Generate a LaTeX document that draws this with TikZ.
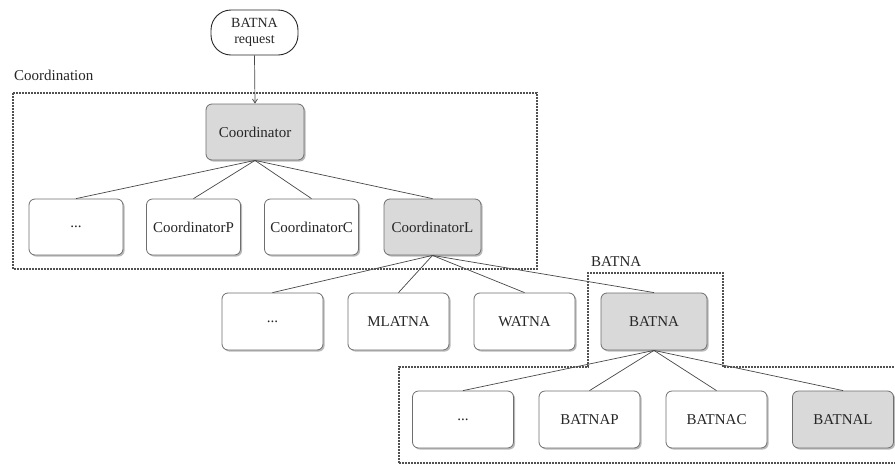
\documentclass[tikz,border=0pt]{standalone}
\usepackage{fontspec}
\setmainfont{Liberation Serif}
\usetikzlibrary{shadows,arrows.meta}
\definecolor{boxline}{HTML}{6E6E6E}
\definecolor{boxfill}{HTML}{D9D9D9}
\definecolor{ink}{HTML}{262626}
\begin{document}
\begin{tikzpicture}[x=1pt,y=-1pt,
  font=\fontsize{15}{17}\selectfont, text=ink,
  unit/.style={rectangle, rounded corners=6pt, draw=boxline, line width=0.8pt,
    fill=white, minimum width=101pt, minimum height=57pt, inner sep=2pt,
    drop shadow={shadow xshift=1.6pt, shadow yshift=-1.6pt, fill=black!45, opacity=0.6}},
  active/.style={unit, fill=boxfill},
  narrow/.style={minimum width=94pt, minimum height=56pt},
  link/.style={draw=ink!85, line width=0.7pt},
  region/.style={draw=ink!80, line width=1.3pt, dash pattern=on 1.6pt off 1.4pt},
  request/.style={rectangle, rounded corners=20pt, draw=ink, line width=0.9pt,
    fill=white, minimum width=87pt, minimum height=45pt, inner sep=1pt, align=center,
    font=\fontsize{14}{16}\selectfont}
]
\useasboundingbox (0,0) rectangle (895,464);

% entry point
\node[request] (req) at (254.5,32.5) {BATNA\\request};

% coordination layer
\node[active, narrow, minimum width=98pt] (coord) at (255,132) {Coordinator};
\node[unit, narrow] (c1) at (76,227) {...};
\node[unit, narrow] (c2) at (193.5,227) {CoordinatorP};
\node[unit, narrow] (c3) at (311.5,227) {CoordinatorC};
\node[active, narrow, minimum width=97pt] (c4) at (432.5,227) {CoordinatorL};

% alternatives under CoordinatorL
\node[unit] (a1) at (272.5,321.5) {...};
\node[unit] (a2) at (398.5,321.5) {MLATNA};
\node[unit] (a3) at (524.5,321.5) {WATNA};
\node[active, minimum width=106pt] (a4) at (654,321.5) {BATNA};

% BATNA variants
\node[unit] (b1) at (463,419.5) {...};
\node[unit] (b2) at (589.5,419.5) {BATNAP};
\node[unit] (b3) at (716.5,419.5) {BATNAC};
\node[active] (b4) at (843,419.5) {BATNAL};

% connectors
\draw[link, -{Straight Barb[length=4pt,width=5pt]}] (req.south) -- (coord.north);
\foreach \t in {c1,c2,c3,c4} \draw[link] (coord.south) -- (\t.north);
\foreach \t in {a1,a2,a3,a4} \draw[link] (c4.south) -- (\t.north);
\foreach \t in {b1,b2,b3,b4} \draw[link] (a4.south) -- (\t.north);

% grouping regions
\node[anchor=west, inner sep=0pt] (lblcoord) at (14,75) {Coordination};
\draw[region] (13,93) rectangle (537,269);

\node[anchor=west, inner sep=0pt] (lblbatna) at (591,262) {BATNA};
\begin{scope}
  \clip (0,0) rectangle (895,464);
  \draw[region] (399,463) -- (399,367) -- (588,367) -- (588,273) -- (723,273)
    -- (723,367) -- (905,367) (905,463) -- (399,463);
\end{scope}
\end{tikzpicture}
\end{document}
